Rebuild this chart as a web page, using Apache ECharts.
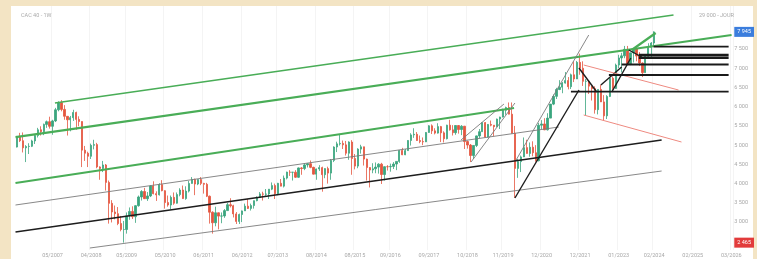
<!DOCTYPE html>
<html>
<head>
<meta charset="utf-8">
<script src="https://cdn.jsdelivr.net/npm/echarts@6/dist/echarts.min.js"></script>
<style>
  html, body { margin: 0; padding: 0; background: #f3e4c4; }
  #panel { position: absolute; left: 11px; top: 6px; width: 742px; height: 253px; background: #fff; }
  #chart { position: absolute; left: 0; top: 0; width: 757px; height: 259px; }
</style>
</head>
<body>
<div id="panel"></div>
<div id="chart"></div>
<script>
// monthly candles, 03/2006 -> 02/2024 (open = previous close)
const firstOpen = 4950;
const closes = [
  5220, 5116, 4930, 4965, 4970, 5110, 5250, 5400, 5350, 5540,
  5610, 5490, 5630, 5920, 6105, 5930, 5750, 5660, 5715, 5850, 5670, 5614,
  4870, 4790, 4710, 4996, 5014, 4434, 4392, 4485, 4032, 3487, 3263, 3218,
  2962, 2807, 2807, 3160, 3277, 3140, 3426, 3653, 3795, 3608, 3680, 3936,
  3739, 3708, 3974, 3816, 3507, 3443, 3643, 3490, 3715, 3833, 3610, 3805,
  4005, 4110, 3989, 4106, 4006, 3982, 3672, 3256, 2982, 3242, 3155, 3160,
  3298, 3452, 3424, 3213, 3017, 3197, 3291, 3414, 3355, 3429, 3557, 3641,
  3733, 3723, 3731, 3856, 3949, 3739, 4008, 3934, 4143, 4299, 4295, 4296,
  4165, 4408, 4392, 4487, 4519, 4423, 4246, 4381, 4416, 4233, 4390, 4273,
  4604, 4951, 5034, 5046, 5008, 4790, 5082, 4653, 4455, 4897, 4957, 4637,
  4417, 4353, 4385, 4429, 4506, 4237, 4440, 4438, 4448, 4509, 4578, 4862,
  4749, 4858, 5122, 5267, 5283, 5121, 5093, 5086, 5330, 5503, 5372, 5313,
  5482, 5320, 5167, 5520, 5398, 5324, 5511, 5407, 5493, 5093, 5003, 4731,
  4992, 5241, 5350, 5586, 5208, 5539, 5519, 5480, 5678, 5730, 5905, 5978,
  5806, 5310, 4396, 4572, 4695, 4936, 4784, 4947, 4803, 4594, 5518, 5551,
  5399, 5703, 6067, 6269, 6447, 6508, 6613, 6680, 6520, 6830, 6721, 7153,
  7000, 6659, 6660, 6534, 6469, 5923, 6449, 6125, 5762, 6267, 6739, 6474,
  7082, 7268, 7322, 7492, 7099, 7400, 7498, 7317, 7135, 6886, 7311, 7543,
  7656, 7945
];
const lows = [
  4940, 5080, 4810, 4560, 4770, 4950, 5030, 5200, 5250, 5260,
  5450, 5430, 5270, 5600, 5880, 5880, 5660, 5250, 5360, 5630, 5400, 5490,
  4430, 4590, 4430, 4640, 4890, 4400, 4100, 4300, 3820, 2960, 2990, 3070,
  2920, 2760, 2465, 2700, 3060, 3080, 2980, 3400, 3560, 3600, 3550, 3650,
  3720, 3550, 3690, 3800, 3350, 3400, 3330, 3450, 3480, 3670, 3600, 3580,
  3770, 4000, 3700, 3960, 3960, 3740, 3650, 2960, 2700, 2890, 2810, 2970,
  3110, 3290, 3380, 3120, 2950, 2950, 3000, 3290, 3340, 3300, 3350, 3540,
  3640, 3560, 3680, 3600, 3830, 3600, 3700, 3930, 3900, 4110, 4200, 4080,
  4150, 4150, 4230, 4350, 4420, 4400, 4240, 4100, 4330, 3790, 4140, 4000,
  4100, 4560, 4820, 4990, 4900, 4730, 4620, 4230, 4370, 4400, 4780, 4470,
  4080, 3900, 4270, 4270, 4260, 3990, 4080, 4340, 4310, 4380, 4350, 4540,
  4740, 4740, 4850, 4990, 5190, 5110, 5050, 5000, 5080, 5320, 5290, 5280,
  5300, 5080, 5070, 5150, 5380, 5250, 5270, 5300, 5260, 4900, 4910, 4560,
  4640, 4950, 5180, 5350, 5200, 5200, 5490, 5230, 5480, 5420, 5720, 5790,
  5800, 5300, 3630, 4150, 4300, 4690, 4780, 4700, 4710, 4570, 4580, 5420,
  5390, 5380, 5700, 6040, 6200, 6430, 6350, 6600, 6450, 6460, 6640, 6720,
  6830, 6540, 5760, 6330, 6160, 5820, 5800, 6120, 5630, 5680, 6250, 6380,
  6460, 7000, 6890, 7260, 7080, 7080, 7150, 7180, 7060, 6770, 6880, 7300,
  7290, 7550
];
const highs = [
  5240, 5320, 5330, 5000, 5050, 5140, 5290, 5450, 5490, 5560,
  5640, 5740, 5660, 5970, 6140, 6170, 6040, 5750, 5760, 5920, 5870, 5750,
  5620, 4980, 4830, 5040, 5140, 5060, 4450, 4590, 4510, 4080, 3570, 3430,
  3390, 3160, 3030, 3250, 3380, 3410, 3440, 3690, 3830, 3890, 3780, 3960,
  4060, 3800, 4010, 4090, 3830, 3690, 3690, 3770, 3770, 3880, 3950, 3930,
  4070, 4170, 4130, 4110, 4170, 4020, 4020, 3690, 3280, 3400, 3250, 3250,
  3340, 3500, 3620, 3450, 3260, 3220, 3300, 3480, 3600, 3480, 3560, 3670,
  3780, 3790, 3860, 3860, 4030, 4000, 4020, 4120, 4210, 4310, 4350, 4300,
  4350, 4420, 4430, 4530, 4530, 4600, 4440, 4390, 4480, 4440, 4400, 4440,
  4640, 4970, 5090, 5280, 5120, 5110, 5100, 5130, 4770, 4920, 5010, 4960,
  4650, 4430, 4530, 4550, 4530, 4540, 4450, 4480, 4520, 4560, 4580, 4870,
  4930, 4900, 5130, 5310, 5440, 5340, 5250, 5200, 5340, 5520, 5540, 5440,
  5570, 5500, 5360, 5530, 5660, 5520, 5520, 5520, 5520, 5500, 5120, 5030,
  5000, 5250, 5420, 5590, 5600, 5550, 5640, 5520, 5690, 5740, 5950, 6000,
  6110, 6110, 5500, 4640, 4730, 5200, 5140, 5070, 5100, 5000, 5580, 5650,
  5700, 5830, 6070, 6320, 6490, 6690, 6640, 6900, 6770, 6860, 7180, 7190,
  7380, 7180, 6720, 6680, 6530, 6530, 6450, 6570, 6300, 6300, 6760, 6790,
  7120, 7350, 7400, 7580, 7580, 7400, 7500, 7520, 7420, 7150, 7330, 7650,
  7680, 7960
];

// x axis: monthly slots from 03/2006 to 04/2026
const slotCount = 242;
const xTickIdx = [12, 25, 37, 50, 63, 76, 88, 101, 114, 126, 139, 152, 164, 177, 190, 203, 215, 228, 241];
const xTickLabels = ['05/2007', '04/2008', '05/2009', '05/2010', '06/2011', '06/2012', '07/2013', '08/2014',
  '08/2015', '09/2016', '09/2017', '10/2018', '11/2019', '12/2020', '12/2021', '01/2023', '02/2024',
  '02/2025', '03/2026'];
const yTicks = [3000, 3500, 4000, 4500, 5000, 5500, 6000, 6500, 7000, 7500];
const lastPrice = 7945;
const lowPrice = 2465;

// drawn lines, [slot, price] end points
const greenLines = [
  [[12.8, 6096], [221.5, 8384]],
  [[-0.5, 5210], [241.1, 7864]],
  [[-0.5, 4016], [167.7, 5966]],
  [[207.4, 7474], [215.5, 7916]]
];
const greyLines = [
  [[-0.5, 3444], [182.8, 5472]],
  [[24.6, 2326], [217.5, 4328]],
  [[153.2, 4562], [168, 6096]],
  [[149.8, 5134], [164.3, 6070]],
  [[168.4, 4614], [192.9, 7864]]
];
const blackLines = [
  [[-0.5, 2742], [217.5, 5134]],
  [[168, 3626], [189.6, 6434]],
  [[189.6, 7006], [195.6, 6382]],
  [[197, 6564], [204, 7032]],
  [[200.7, 6382], [207.1, 7266]],
  [[206.4, 7474], [210.8, 7292]]
];
const redLines = [
  [[191.2, 7084], [223.2, 6434]],
  [[191.2, 5784], [224.2, 5082]]
];
// horizontal levels: [start slot, price]
const levels = [
  [214.8, 7560], [209.8, 7344], [209.8, 7274], [204, 7097], [199.7, 6824], [186.9, 6390]
];
const levelEnd = 240.1;

const months = [];
for (let i = 0; i < slotCount; i++) {
  const m = (2 + i) % 12 + 1;
  const y = 2006 + Math.floor((2 + i) / 12);
  months.push((m < 10 ? '0' : '') + m + '/' + y);
}

const candles = closes.map((c, i) => [i === 0 ? firstOpen : closes[i - 1], c, lows[i], highs[i]]);

function fmt(v) {
  return String(v).replace(/\B(?=(\d{3})+(?!\d))/g, ' ');
}

function lineSeries(pts, color, width) {
  return {
    type: 'line', xAxisIndex: 1, data: pts, symbol: 'none', silent: true,
    lineStyle: { color: color, width: width }, z: 3
  };
}

const series = [{
  type: 'candlestick',
  data: candles,
  barWidth: 1.8,
  itemStyle: { color: '#3aa57e', color0: '#e4563f', borderColor: '#3aa57e', borderColor0: '#e4563f', borderWidth: 0.8 },
  z: 2
}];
greenLines.forEach((p, i) => series.push(lineSeries(p, '#49ad57', i === 0 ? 1.6 : 2.2)));
greyLines.forEach(p => series.push(lineSeries(p, '#7a7a7a', 0.9)));
blackLines.forEach((p, i) => series.push(lineSeries(p, '#1d1d1d', i === 0 ? 1.6 : 1.4)));
redLines.forEach(p => series.push(lineSeries(p, '#ee8a80', 1)));
levels.forEach((l, i) => series.push(lineSeries([[l[0], l[1]], [levelEnd, l[1]]], '#1a1a1a', (i === 1 || i === 2) ? 2.4 : 1.8)));

const chart = echarts.init(document.getElementById('chart'), null, { renderer: 'canvas' });
chart.setOption({
  animation: false,
  textStyle: { fontFamily: 'Roboto' },
  title: [
    { text: 'CAC 40 - 1W', left: 16, top: 8, textStyle: { fontSize: 5.5, color: '#aaa', fontWeight: 'normal' } },
    { text: '29 000 - JOUR', left: 694, top: 8, textStyle: { fontSize: 5.5, color: '#aaa', fontWeight: 'normal' } }
  ],
  grid: { left: 15.5, top: 6, width: 718.74, height: 244 },
  xAxis: [{
    type: 'category',
    data: months,
    boundaryGap: true,
    axisLine: { show: false },
    axisTick: { show: false },
    axisLabel: {
      interval: (i) => xTickIdx.includes(i),
      formatter: (v, i) => xTickLabels[xTickIdx.indexOf(i)] || '',
      fontSize: 5.5, color: '#a8a8a8', margin: 3
    },
    splitLine: { show: true, interval: (i) => xTickIdx.includes(i), lineStyle: { color: '#f4f4f4', width: 1 } }
  }, {
    type: 'value', min: -0.5, max: slotCount - 0.5, show: false
  }],
  yAxis: {
    type: 'value', position: 'right', min: 2274, max: 8618,
    axisLine: { show: false },
    axisTick: { show: false },
    splitLine: { show: false },
    axisLabel: {
      customValues: [lowPrice].concat(yTicks, [lastPrice]),
      margin: 1.5,
      fontSize: 5.5, color: '#a8a8a8',
      formatter: (v) => v === lastPrice ? '{b|' + fmt(v) + '}' : v === lowPrice ? '{r|' + fmt(v) + '}' : fmt(v),
      rich: {
        b: { backgroundColor: '#3b7ddd', color: '#fff', padding: [2, 3], fontSize: 5.5 },
        r: { backgroundColor: '#e23b3b', color: '#fff', padding: [2, 3], fontSize: 5.5 }
      }
    }
  },
  series: series
});
</script>
</body>
</html>
